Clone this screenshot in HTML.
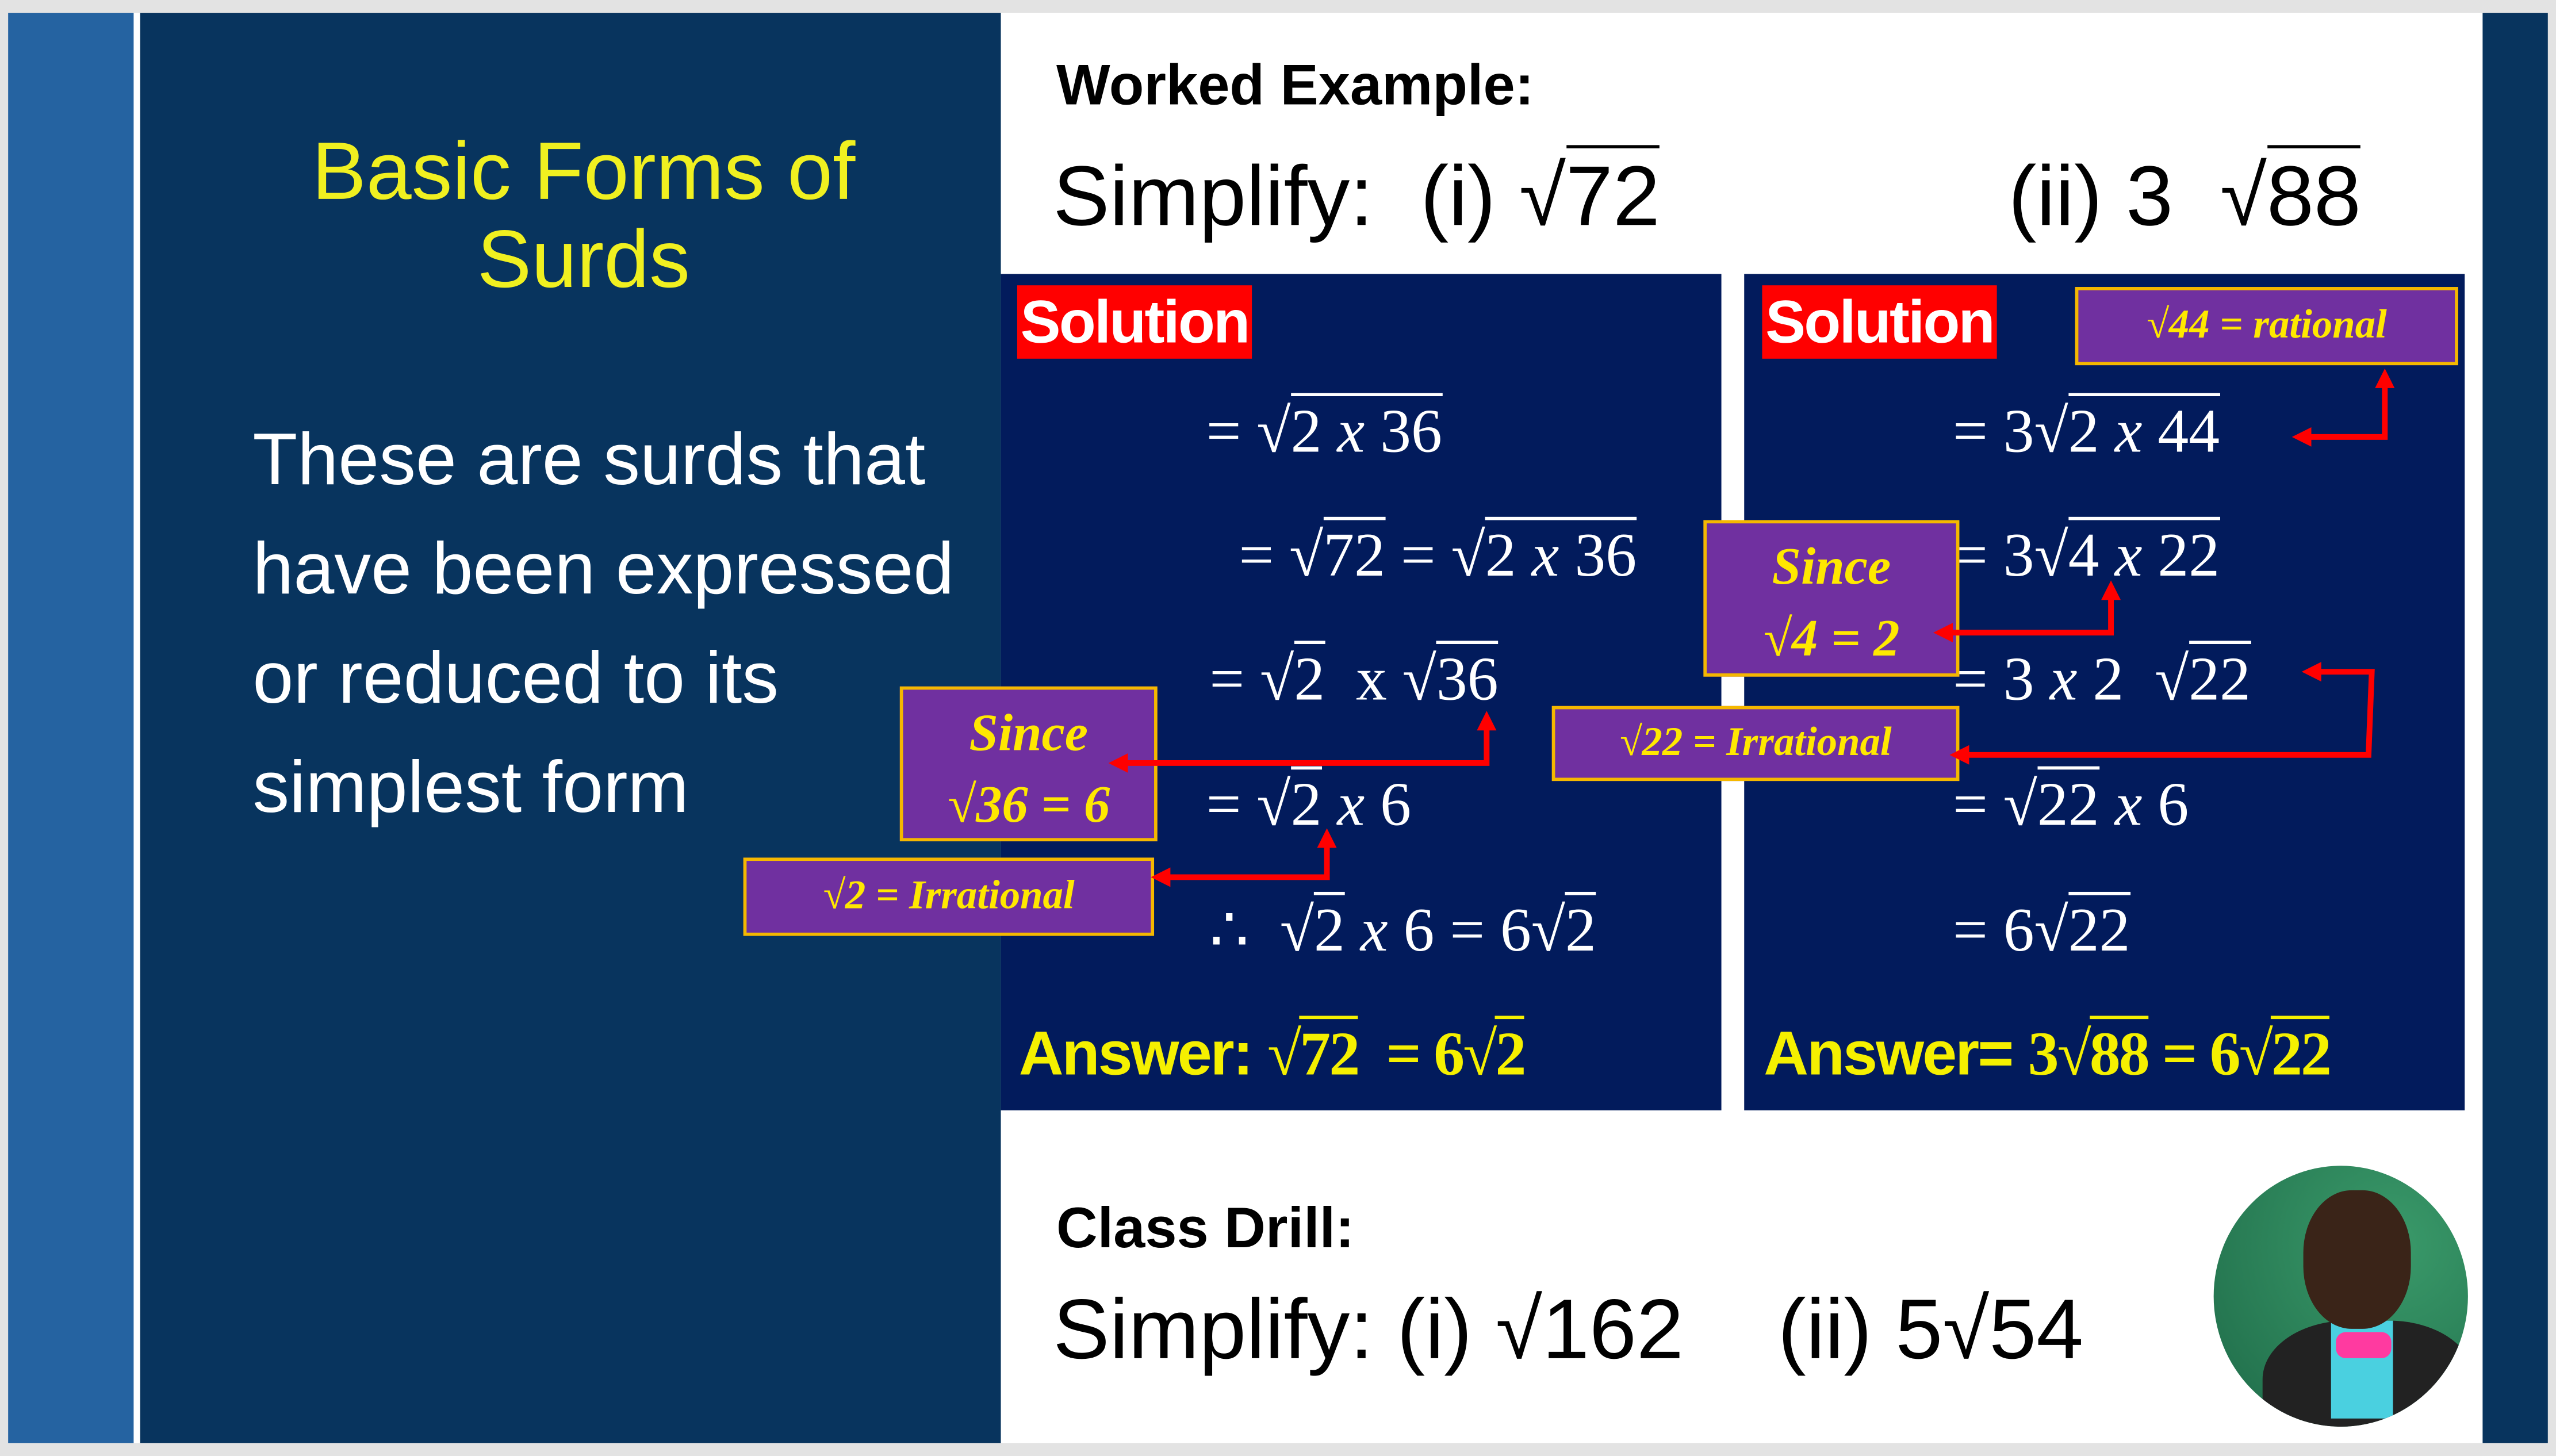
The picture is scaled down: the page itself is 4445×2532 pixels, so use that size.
<!DOCTYPE html>
<html><head><meta charset="utf-8"><style>
html,body{margin:0;padding:0;background:#e3e3e3;width:4445px;height:2532px;overflow:hidden}
#s{position:absolute;left:0;top:0;width:1568px;height:893px;transform:scale(2.8348,2.8354);transform-origin:0 0;font-family:"Liberation Sans",sans-serif}
.a{position:absolute;white-space:nowrap;line-height:1}
.m{font-family:"Liberation Serif",serif;color:#fff;font-size:38px}
.m i{font-style:italic}
.o{border-top:2px solid currentColor;padding-top:1px}
.pb{position:absolute;background:#7030a0;border:2.5px solid #f5b800;box-sizing:border-box;color:#ffe800;font-family:"Liberation Serif",serif;font-weight:bold;font-style:italic;text-align:center}
.sol{position:absolute;background:#ff0000;color:#fff;font-weight:bold;font-size:37px;line-height:45px;padding:0 2px;letter-spacing:-1px}
.y{color:#f5f000;font-weight:bold}
</style></head><body><div id="s">
<div style="position:absolute;left:5px;top:8px;width:77px;height:877px;background:#2563a1"></div>
<div style="position:absolute;left:82px;top:8px;width:4px;height:877px;background:#fff"></div>
<div style="position:absolute;left:86px;top:8px;width:528px;height:877px;background:#08345e"></div>
<div style="position:absolute;left:614px;top:8px;width:909px;height:877px;background:#fff"></div>
<div style="position:absolute;left:1523px;top:8px;width:40px;height:877px;background:#08345e"></div>

<div class="a" style="left:150px;width:416px;top:78px;text-align:center;color:#f0f020;font-size:50px;line-height:54px;white-space:normal">Basic Forms of<br>Surds</div>
<div class="a" style="left:155px;top:248px;color:#fff;font-size:45px;line-height:67px;white-space:nowrap">These are surds that<br>have been expressed<br>or reduced to its<br>simplest form</div>

<div class="a" style="left:648px;top:35px;font-size:35px;font-weight:bold;color:#000">Worked Example:</div>
<div class="a" style="left:646px;top:95px;font-size:52px;color:#000">Simplify:&nbsp; (i) √<span class="o">72</span></div>
<div class="a" style="left:1232px;top:95px;font-size:52px;color:#000">(ii) 3 &nbsp;√<span class="o">88</span></div>

<div style="position:absolute;left:614px;top:168px;width:442px;height:513px;background:#021b5c"></div>
<div style="position:absolute;left:1070px;top:168px;width:442px;height:513px;background:#021b5c"></div>
<div class="sol" style="left:624px;top:175px">Solution</div>
<div class="sol" style="left:1081px;top:175px">Solution</div>

<div class="a m" style="left:740px;top:246px">= √<span class="o">2 <i>x</i> 36</span></div>
<div class="a m" style="left:760px;top:322px">= √<span class="o">72</span> = √<span class="o">2 <i>x</i> 36</span></div>
<div class="a m" style="left:742px;top:398px">= √<span class="o">2</span> &nbsp;x √<span class="o">36</span></div>
<div class="a m" style="left:740px;top:475px">= √<span class="o">2</span> <i>x</i> 6</div>
<div class="a m" style="left:742px;top:552px">∴ &nbsp;√<span class="o">2</span> <i>x</i> 6 = 6√<span class="o">2</span></div>

<div class="a m" style="left:1198px;top:246px">= 3√<span class="o">2 <i>x</i> 44</span></div>
<div class="a m" style="left:1198px;top:322px">= 3√<span class="o">4 <i>x</i> 22</span></div>
<div class="a m" style="left:1198px;top:398px">= 3 <i>x</i> 2 &nbsp;√<span class="o">22</span></div>
<div class="a m" style="left:1198px;top:475px">= √<span class="o">22</span> <i>x</i> 6</div>
<div class="a m" style="left:1198px;top:552px">= 6√<span class="o">22</span></div>

<div class="a y" style="left:625px;top:628px;font-size:38px;letter-spacing:-1px">Answer: <span style="font-family:'Liberation Serif',serif">√<span class="o">72</span> &nbsp;= 6√<span class="o">2</span></span></div>
<div class="a y" style="left:1082px;top:628px;font-size:38px;letter-spacing:-1px">Answer= <span style="font-family:'Liberation Serif',serif">3√<span class="o">88</span> = 6√<span class="o">22</span></span></div>

<div class="pb" style="left:552px;top:421px;width:158px;height:95px;font-size:32px;line-height:44px;padding-top:4px">Since<br>√36 = 6</div>
<div class="pb" style="left:456px;top:526px;width:252px;height:48px;font-size:25px;line-height:43px">√2 = Irrational</div>
<div class="pb" style="left:1273px;top:176px;width:235px;height:48px;font-size:25px;line-height:43px">√44 = rational</div>
<div class="pb" style="left:1045px;top:319px;width:157px;height:96px;font-size:32px;line-height:44px;padding-top:4px">Since<br>√4 = 2</div>
<div class="pb" style="left:952px;top:433px;width:250px;height:46px;font-size:25px;line-height:41px">√22 = Irrational</div>

<svg style="position:absolute;left:0;top:0" width="1568" height="893">
<defs><marker id="h" markerWidth="12" markerHeight="12" refX="4" refY="6" orient="auto-start-reverse" markerUnits="userSpaceOnUse"><path d="M0,0 L12,6 L0,12 z" fill="#f00"/></marker></defs>
<g stroke="#f00" stroke-width="3.5" fill="none">
<polyline points="912,444 912,468 688,468" marker-start="url(#h)" marker-end="url(#h)"/>
<polyline points="814,516 814,538 714,538" marker-start="url(#h)" marker-end="url(#h)"/>
<polyline points="1463,234 1463,268 1414,268" marker-start="url(#h)" marker-end="url(#h)"/>
<polyline points="1295,364 1295,388 1194,388" marker-start="url(#h)" marker-end="url(#h)"/>
<polyline points="1420,412 1455,412 1453,463 1204,463" marker-start="url(#h)" marker-end="url(#h)"/>
</g></svg>

<div class="a" style="left:648px;top:736px;font-size:35px;font-weight:bold;color:#000">Class Drill:</div>
<div class="a" style="left:646px;top:790px;font-size:52px;color:#000">Simplify: (i) √162 &nbsp;&nbsp;&nbsp;(ii) 5√54</div>

<div style="position:absolute;left:1358px;top:715px;width:156px;height:160px;border-radius:50%;overflow:hidden;background:radial-gradient(circle at 70% 30%,#3a9a6a,#1e6a48)">
<div style="position:absolute;left:30px;top:95px;width:130px;height:90px;background:#222;border-radius:40% 40% 0 0"></div>
<div style="position:absolute;left:72px;top:95px;width:38px;height:60px;background:#4ad0e0"></div>
<div style="position:absolute;left:75px;top:102px;width:34px;height:16px;background:#ff3aa0;border-radius:6px"></div>
<div style="position:absolute;left:55px;top:15px;width:66px;height:85px;background:#3a2418;border-radius:45%"></div>
</div>
</div></body></html>
